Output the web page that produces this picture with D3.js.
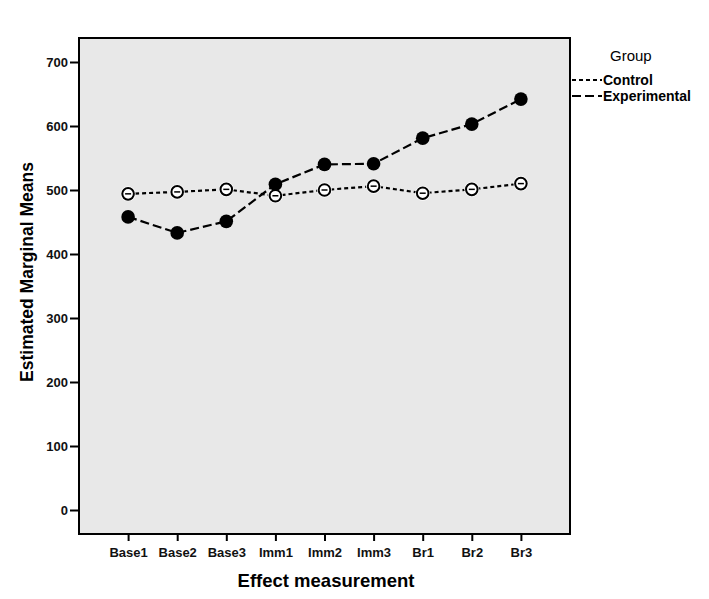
<!DOCTYPE html>
<html><head><meta charset="utf-8">
<script src="https://cdn.jsdelivr.net/npm/d3@7"></script>
<style>body{margin:0;background:#fff;}</style>
</head><body>
<svg id="c" width="709" height="599"></svg>
<script>
const categories = ["Base1","Base2","Base3","Imm1","Imm2","Imm3","Br1","Br2","Br3"];
const controlValues = [494, 497, 501, 491, 500, 506, 495, 501, 510];
const experimentalValues = [458, 433, 451, 509, 540, 541, 581, 603, 642];
const yTicks = [0, 100, 200, 300, 400, 500, 600, 700];
const seriesNames = ["Control", "Experimental"];

const svg = d3.select("#c");
const L = 79, R = 570, T = 38, B = 534;
const x = d3.scalePoint().domain(categories).range([L, R]).padding(1);
const y = d3.scaleLinear().domain([-37.5, 737.5]).range([B, T]);

svg.append("rect").attr("x", L).attr("y", T).attr("width", R - L).attr("height", B - T)
  .attr("fill", "#e8e8e8").attr("stroke", "#000").attr("stroke-width", 2);

const font = "'Liberation Sans', Arial, sans-serif";
const yAxis = svg.append("g").attr("transform", `translate(${L},0)`)
  .call(d3.axisLeft(y).tickValues(yTicks).tickSize(9).tickPadding(2));
yAxis.select(".domain").remove();
yAxis.selectAll("line").attr("stroke-width", 2);
yAxis.selectAll("text").attr("font-family", font).attr("font-size", 13).attr("font-weight", "bold").attr("fill", "#111");

const xAxis = svg.append("g").attr("transform", `translate(0,${B})`)
  .call(d3.axisBottom(x).tickSize(7).tickPadding(7));
xAxis.select(".domain").remove();
xAxis.selectAll("line").attr("stroke-width", 2);
xAxis.selectAll("text").attr("font-family", font).attr("font-size", 13).attr("font-weight", "bold").attr("fill", "#111");

svg.append("text").attr("x", 326).attr("y", 587).attr("text-anchor", "middle")
  .attr("font-family", font).attr("font-size", 18.5).attr("font-weight", "bold").text("Effect measurement");
svg.append("text").attr("transform", "translate(33,272) rotate(-90)").attr("text-anchor", "middle")
  .attr("font-family", font).attr("font-size", 17.5).attr("font-weight", "bold").text("Estimated Marginal Means");

const line = d3.line().x((d, i) => x(categories[i])).y(d => y(d));

svg.append("path").datum(controlValues).attr("d", line).attr("fill", "none")
  .attr("stroke", "#000").attr("stroke-width", 2.2).attr("stroke-dasharray", "4,3");
svg.append("path").datum(experimentalValues).attr("d", line).attr("fill", "none")
  .attr("stroke", "#000").attr("stroke-width", 2.2).attr("stroke-dasharray", "9,4");

const cg = svg.append("g");
controlValues.forEach((v, i) => {
  const cx = x(categories[i]), cy = y(v);
  cg.append("circle").attr("cx", cx).attr("cy", cy).attr("r", 7.5).attr("fill", "#fff");
  cg.append("circle").attr("cx", cx).attr("cy", cy).attr("r", 5.8).attr("fill", "#fff")
    .attr("stroke", "#000").attr("stroke-width", 2);
  cg.append("line").attr("x1", cx - 3).attr("x2", cx + 3).attr("y1", cy).attr("y2", cy)
    .attr("stroke", "#000").attr("stroke-width", 1.5);
});
svg.append("g").selectAll("circle").data(experimentalValues).join("circle")
  .attr("cx", (d, i) => x(categories[i])).attr("cy", d => y(d)).attr("r", 6.8).attr("fill", "#000");

const lg = svg.append("g");
lg.append("text").attr("x", 610).attr("y", 61).attr("font-family", font).attr("font-size", 15).text("Group");
const dashes = ["4,3", "9,4"];
seriesNames.forEach((n, i) => {
  const yy = 80 + i * 16;
  lg.append("line").attr("x1", 572).attr("x2", 602).attr("y1", yy).attr("y2", yy)
    .attr("stroke", "#000").attr("stroke-width", 2).attr("stroke-dasharray", dashes[i]);
  lg.append("text").attr("x", 603).attr("y", yy + 5).attr("font-family", font).attr("font-size", 14)
    .attr("font-weight", "bold").text(n);
});
</script>
</body></html>
